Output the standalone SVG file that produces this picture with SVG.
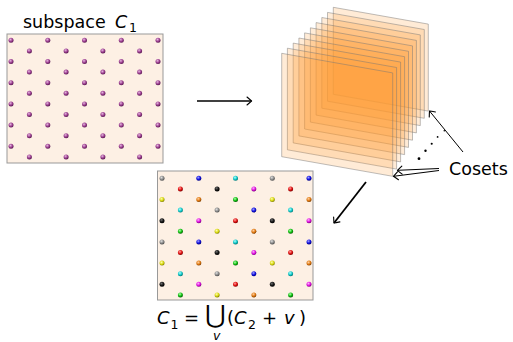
<svg xmlns="http://www.w3.org/2000/svg" xmlns:xlink="http://www.w3.org/1999/xlink" width="513" height="342" viewBox="0 0 513 342">
<style>
text{font-family:"DejaVu Sans","Liberation Sans",sans-serif;fill:#000}
.it{font-style:italic}
.box{fill:#fdf0e4;stroke:#999;stroke-width:1}
.pl{fill:#ff9933;fill-opacity:0.2;stroke:#777;stroke-opacity:0.6;stroke-width:0.8}
.ln{stroke:#000;fill:none}
.pu{fill:url(#gpu)}.gy{fill:url(#ggy)}.bl{fill:url(#gbl)}.cy{fill:url(#gcy)}.rd{fill:url(#grd)}.bk{fill:url(#gbk)}.mg{fill:url(#gmg)}.ye{fill:url(#gye)}.or{fill:url(#gor)}.gr{fill:url(#ggr)}
</style>
<defs>
<radialGradient id="gpu" cx="0.4" cy="0.35" r="0.65"><stop offset="0" stop-color="#e6b8e0"/><stop offset="0.6" stop-color="#9a3c8e"/><stop offset="1" stop-color="#5a1a52"/></radialGradient>
<radialGradient id="ggy" cx="0.4" cy="0.35" r="0.65"><stop offset="0" stop-color="#e0e0e0"/><stop offset="0.6" stop-color="#8a8a8a"/><stop offset="1" stop-color="#505050"/></radialGradient>
<radialGradient id="gbl" cx="0.4" cy="0.35" r="0.65"><stop offset="0" stop-color="#a0a0ff"/><stop offset="0.6" stop-color="#1010e0"/><stop offset="1" stop-color="#000080"/></radialGradient>
<radialGradient id="gcy" cx="0.4" cy="0.35" r="0.65"><stop offset="0" stop-color="#b0ffff"/><stop offset="0.6" stop-color="#10c8c8"/><stop offset="1" stop-color="#007878"/></radialGradient>
<radialGradient id="grd" cx="0.4" cy="0.35" r="0.65"><stop offset="0" stop-color="#ffa0a0"/><stop offset="0.6" stop-color="#e01010"/><stop offset="1" stop-color="#800000"/></radialGradient>
<radialGradient id="gbk" cx="0.4" cy="0.35" r="0.65"><stop offset="0" stop-color="#707070"/><stop offset="0.6" stop-color="#151515"/><stop offset="1" stop-color="#000"/></radialGradient>
<radialGradient id="gmg" cx="0.4" cy="0.35" r="0.65"><stop offset="0" stop-color="#ffb0ff"/><stop offset="0.6" stop-color="#e010e0"/><stop offset="1" stop-color="#800080"/></radialGradient>
<radialGradient id="gye" cx="0.4" cy="0.35" r="0.65"><stop offset="0" stop-color="#ffffb0"/><stop offset="0.6" stop-color="#d8d810"/><stop offset="1" stop-color="#808000"/></radialGradient>
<radialGradient id="gor" cx="0.4" cy="0.35" r="0.65"><stop offset="0" stop-color="#ffd0a0"/><stop offset="0.6" stop-color="#e07810"/><stop offset="1" stop-color="#804000"/></radialGradient>
<radialGradient id="ggr" cx="0.4" cy="0.35" r="0.65"><stop offset="0" stop-color="#b0ffb0"/><stop offset="0.6" stop-color="#10c010"/><stop offset="1" stop-color="#006000"/></radialGradient>
<circle id="d" r="2.5"/>
<marker id="ah" viewBox="-6 -5 8 10" markerWidth="8" markerHeight="10" refX="0" refY="0" orient="auto" markerUnits="userSpaceOnUse">
<path d="M-4.5,-4 Q-1,-1 0,0 Q-1,1 -4.5,4" fill="none" stroke="#000" stroke-width="1.1" stroke-linecap="round"/>
</marker>
</defs>

<g id="subspace">
<rect class="box" x="7" y="34" width="156" height="129"/>
<g class="pu">
<use xlink:href="#d" x="11" y="40.3"/><use xlink:href="#d" x="47.8" y="40.3"/><use xlink:href="#d" x="84.5" y="40.3"/><use xlink:href="#d" x="121.3" y="40.3"/><use xlink:href="#d" x="158" y="40.3"/>
<use xlink:href="#d" x="29.4" y="50.9"/><use xlink:href="#d" x="66.1" y="50.9"/><use xlink:href="#d" x="102.9" y="50.9"/><use xlink:href="#d" x="139.6" y="50.9"/>
<use xlink:href="#d" x="11" y="61.5"/><use xlink:href="#d" x="47.8" y="61.5"/><use xlink:href="#d" x="84.5" y="61.5"/><use xlink:href="#d" x="121.3" y="61.5"/><use xlink:href="#d" x="158" y="61.5"/>
<use xlink:href="#d" x="29.4" y="72.1"/><use xlink:href="#d" x="66.1" y="72.1"/><use xlink:href="#d" x="102.9" y="72.1"/><use xlink:href="#d" x="139.6" y="72.1"/>
<use xlink:href="#d" x="11" y="82.7"/><use xlink:href="#d" x="47.8" y="82.7"/><use xlink:href="#d" x="84.5" y="82.7"/><use xlink:href="#d" x="121.3" y="82.7"/><use xlink:href="#d" x="158" y="82.7"/>
<use xlink:href="#d" x="29.4" y="93.3"/><use xlink:href="#d" x="66.1" y="93.3"/><use xlink:href="#d" x="102.9" y="93.3"/><use xlink:href="#d" x="139.6" y="93.3"/>
<use xlink:href="#d" x="11" y="103.9"/><use xlink:href="#d" x="47.8" y="103.9"/><use xlink:href="#d" x="84.5" y="103.9"/><use xlink:href="#d" x="121.3" y="103.9"/><use xlink:href="#d" x="158" y="103.9"/>
<use xlink:href="#d" x="29.4" y="114.5"/><use xlink:href="#d" x="66.1" y="114.5"/><use xlink:href="#d" x="102.9" y="114.5"/><use xlink:href="#d" x="139.6" y="114.5"/>
<use xlink:href="#d" x="11" y="125.1"/><use xlink:href="#d" x="47.8" y="125.1"/><use xlink:href="#d" x="84.5" y="125.1"/><use xlink:href="#d" x="121.3" y="125.1"/><use xlink:href="#d" x="158" y="125.1"/>
<use xlink:href="#d" x="29.4" y="135.7"/><use xlink:href="#d" x="66.1" y="135.7"/><use xlink:href="#d" x="102.9" y="135.7"/><use xlink:href="#d" x="139.6" y="135.7"/>
<use xlink:href="#d" x="11" y="146.3"/><use xlink:href="#d" x="47.8" y="146.3"/><use xlink:href="#d" x="84.5" y="146.3"/><use xlink:href="#d" x="121.3" y="146.3"/><use xlink:href="#d" x="158" y="146.3"/>
<use xlink:href="#d" x="29.4" y="156.9"/><use xlink:href="#d" x="66.1" y="156.9"/><use xlink:href="#d" x="102.9" y="156.9"/><use xlink:href="#d" x="139.6" y="156.9"/>
</g>
<text x="23" y="28" font-size="17.5">subspace</text>
<text class="it" x="115" y="28" font-size="17.5">C</text>
<text x="129" y="32" font-size="12.5">1</text>
</g>

<g id="cosets-stack">
<polygon class="pl" points="333.3,7.3 428.3,24.1 428.3,111.1 333.3,94.3"/>
<polygon class="pl" points="327.5,12.4 424.3,29.5 424.3,118.3 327.5,101.2"/>
<polygon class="pl" points="321.8,17.5 420.3,34.9 420.3,125.6 321.8,108.2"/>
<polygon class="pl" points="316.1,22.6 416.4,40.4 416.4,132.9 316.1,115.1"/>
<polygon class="pl" points="310.4,27.8 412.5,45.9 412.5,140.2 310.4,122.1"/>
<polygon class="pl" points="304.6,32.9 408.5,51.3 408.5,147.4 304.6,129"/>
<polygon class="pl" points="298.9,38 404.6,56.7 404.6,154.6 298.9,135.9"/>
<polygon class="pl" points="293.2,43.1 400.6,62.1 400.6,161.9 293.2,142.9"/>
<polygon class="pl" points="287.4,48.2 396.6,67.5 396.6,169.1 287.4,149.8"/>
<polygon class="pl" points="281.7,53.3 392.7,72.9 392.7,176.3 281.7,156.7"/>
<g fill="#000">
<circle cx="444.3" cy="130.7" r="0.8"/><circle cx="437.6" cy="136.9" r="0.9"/><circle cx="431.7" cy="143.7" r="1.05"/><circle cx="425.5" cy="150.8" r="1.2"/><circle cx="419" cy="158.7" r="1.4"/>
</g>
</g>

<g id="union">
<rect class="box" x="157.5" y="171" width="155.5" height="129"/>
<use class="gy" xlink:href="#d" x="162" y="178.3"/><use class="bl" xlink:href="#d" x="198.8" y="178.3"/><use class="cy" xlink:href="#d" x="235.5" y="178.3"/><use class="gy" xlink:href="#d" x="272.3" y="178.3"/><use class="bl" xlink:href="#d" x="309" y="178.3"/>
<use class="rd" xlink:href="#d" x="180.4" y="188.9"/><use class="bk" xlink:href="#d" x="217.1" y="188.9"/><use class="mg" xlink:href="#d" x="253.9" y="188.9"/><use class="rd" xlink:href="#d" x="290.6" y="188.9"/>
<use class="ye" xlink:href="#d" x="162" y="199.5"/><use class="or" xlink:href="#d" x="198.8" y="199.5"/><use class="gr" xlink:href="#d" x="235.5" y="199.5"/><use class="ye" xlink:href="#d" x="272.3" y="199.5"/><use class="or" xlink:href="#d" x="309" y="199.5"/>
<use class="cy" xlink:href="#d" x="180.4" y="210.1"/><use class="gy" xlink:href="#d" x="217.1" y="210.1"/><use class="bl" xlink:href="#d" x="253.9" y="210.1"/><use class="cy" xlink:href="#d" x="290.6" y="210.1"/>
<use class="bk" xlink:href="#d" x="162" y="220.7"/><use class="mg" xlink:href="#d" x="198.8" y="220.7"/><use class="rd" xlink:href="#d" x="235.5" y="220.7"/><use class="bk" xlink:href="#d" x="272.3" y="220.7"/><use class="mg" xlink:href="#d" x="309" y="220.7"/>
<use class="gr" xlink:href="#d" x="180.4" y="231.3"/><use class="ye" xlink:href="#d" x="217.1" y="231.3"/><use class="or" xlink:href="#d" x="253.9" y="231.3"/><use class="gr" xlink:href="#d" x="290.6" y="231.3"/>
<use class="gy" xlink:href="#d" x="162" y="241.9"/><use class="bl" xlink:href="#d" x="198.8" y="241.9"/><use class="cy" xlink:href="#d" x="235.5" y="241.9"/><use class="gy" xlink:href="#d" x="272.3" y="241.9"/><use class="bl" xlink:href="#d" x="309" y="241.9"/>
<use class="rd" xlink:href="#d" x="180.4" y="252.5"/><use class="bk" xlink:href="#d" x="217.1" y="252.5"/><use class="mg" xlink:href="#d" x="253.9" y="252.5"/><use class="rd" xlink:href="#d" x="290.6" y="252.5"/>
<use class="ye" xlink:href="#d" x="162" y="263.1"/><use class="or" xlink:href="#d" x="198.8" y="263.1"/><use class="gr" xlink:href="#d" x="235.5" y="263.1"/><use class="ye" xlink:href="#d" x="272.3" y="263.1"/><use class="or" xlink:href="#d" x="309" y="263.1"/>
<use class="cy" xlink:href="#d" x="180.4" y="273.7"/><use class="gy" xlink:href="#d" x="217.1" y="273.7"/><use class="bl" xlink:href="#d" x="253.9" y="273.7"/><use class="cy" xlink:href="#d" x="290.6" y="273.7"/>
<use class="bk" xlink:href="#d" x="162" y="284.3"/><use class="mg" xlink:href="#d" x="198.8" y="284.3"/><use class="rd" xlink:href="#d" x="235.5" y="284.3"/><use class="bk" xlink:href="#d" x="272.3" y="284.3"/><use class="mg" xlink:href="#d" x="309" y="284.3"/>
<use class="gr" xlink:href="#d" x="180.4" y="294.9"/><use class="ye" xlink:href="#d" x="217.1" y="294.9"/><use class="or" xlink:href="#d" x="253.9" y="294.9"/><use class="gr" xlink:href="#d" x="290.6" y="294.9"/>
<text class="it" x="157" y="324" font-size="18">C</text>
<text x="170.5" y="328.5" font-size="12.5">1</text>
<text x="184" y="324" font-size="18">=</text>
<text x="205" y="323" font-size="25">⋃</text>
<text x="227" y="324" font-size="18">(</text>
<text class="it" x="234" y="324" font-size="18">C</text>
<text x="248" y="328.5" font-size="12.5">2</text>
<text x="262" y="324" font-size="18">+</text>
<text class="it" x="284" y="324" font-size="18">v</text>
<text x="299" y="324" font-size="18">)</text>
<text class="it" x="213" y="340" font-size="12.5">v</text>
</g>

<g id="cosets-label">
<text x="449" y="175" font-size="17.5">Cosets</text>
</g>

<g id="connectors" class="ln" stroke-width="1.3">
<line x1="197" y1="101" x2="251.5" y2="101" marker-end="url(#ah)"/>
<line x1="366" y1="182" x2="334" y2="223" marker-end="url(#ah)" stroke-width="1.8"/>
<line x1="463" y1="152" x2="429.5" y2="111" marker-end="url(#ah)" stroke-width="1"/>
<line x1="439" y1="168.5" x2="397.5" y2="170.3" marker-end="url(#ah)" stroke-width="1"/>
<line x1="439" y1="170.5" x2="393.5" y2="176.3" marker-end="url(#ah)" stroke-width="1"/>
</g>
</svg>
